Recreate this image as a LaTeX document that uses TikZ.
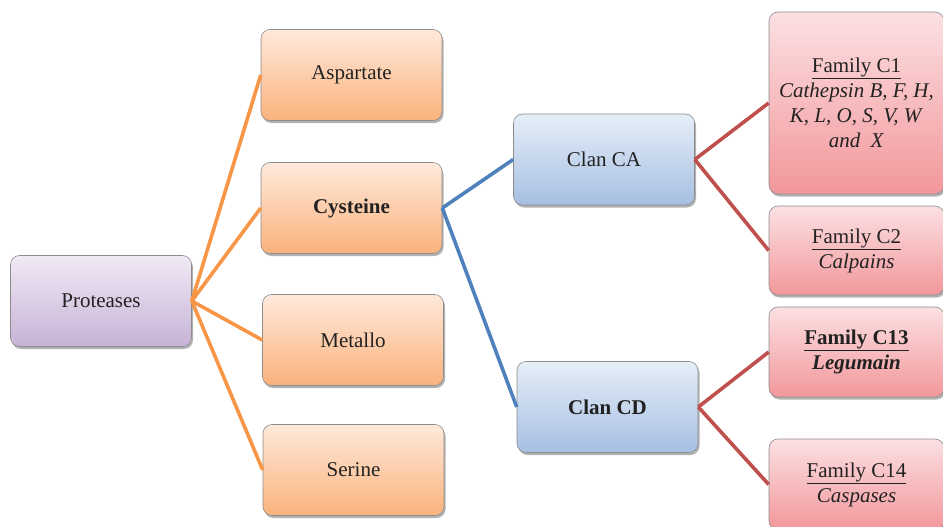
\documentclass[tikz,border=0pt]{standalone}
\usepackage{fontspec}
\setmainfont{Liberation Serif}
\usetikzlibrary{shadows}
\definecolor{purpleTop}{HTML}{F1E9F5}
\definecolor{purpleBot}{HTML}{C7B3D6}
\definecolor{orangeTop}{HTML}{FFE9DB}
\definecolor{orangeBot}{HTML}{FAB27C}
\definecolor{blueTop}{HTML}{E6EEF8}
\definecolor{blueBot}{HTML}{A6BFE2}
\definecolor{redTop}{HTML}{FCE0E2}
\definecolor{redBot}{HTML}{F2979B}
\definecolor{lineOrange}{HTML}{F79646}
\definecolor{lineBlue}{HTML}{4F81BD}
\definecolor{lineRed}{HTML}{C0504D}
\definecolor{boxBorder}{HTML}{8C8C8C}
\definecolor{txt}{HTML}{222222}
\begin{document}
\begin{tikzpicture}[x=1pt,y=-1pt,
  box/.style={draw=boxBorder, line width=0.6pt, rounded corners=9pt,
    minimum width=181pt, minimum height=91pt, align=center,
    font=\fontsize{21}{25}\selectfont, text=txt,
    drop shadow={shadow xshift=1.5pt, shadow yshift=-2.5pt, opacity=0.3, fill=black}},
  purplebox/.style={box, top color=purpleTop, bottom color=purpleBot},
  orangebox/.style={box, top color=orangeTop, bottom color=orangeBot},
  bluebox/.style={box, top color=blueTop, bottom color=blueBot},
  redbox/.style={box, top color=redTop, bottom color=redBot, minimum width=175pt},
  link/.style={line width=3.6pt},
]
\useasboundingbox (0,0) rectangle (943,527);
\clip (0,0) rectangle (943,527);

% root
\node[purplebox] (prot) at (101,301) {Proteases};

% catalytic types
\node[orangebox] (asp) at (351.5,75) {Aspartate};
\node[orangebox] (cys) at (351.5,208) {\textbf{Cysteine}};
\node[orangebox] (met) at (353,340) {Metallo};
\node[orangebox] (ser) at (353.5,470) {Serine};

% clans
\node[bluebox] (ca) at (604,159.5) {Clan CA};
\node[bluebox] (cd) at (607.5,407) {\textbf{Clan CD}};

% families
\node[redbox, minimum height=182pt] (c1) at (856.5,103)
  {\underline{Family C1}\\ \textit{Cathepsin B, F, H,}\\ \textit{K, L, O, S, V, W}\\ \textit{and\ \ X}};
\node[redbox, minimum height=89pt] (c2) at (856.5,250.5)
  {\underline{Family C2}\\ \textit{Calpains}};
\node[redbox, minimum height=90pt] (c13) at (856.5,352)
  {\underline{\textbf{Family C13}}\\ \textbf{\textit{Legumain}}};
\node[redbox, minimum height=91pt] (c14) at (856.5,484.5)
  {\underline{Family C14}\\ \textit{Caspases}};

% connectors
\foreach \t in {asp,cys,met,ser}
  \draw[link, lineOrange] (prot.east) -- (\t.west);
\foreach \t in {ca,cd}
  \draw[link, lineBlue] (cys.east) -- (\t.west);
\foreach \t in {c1,c2}
  \draw[link, lineRed] (ca.east) -- (\t.west);
\foreach \t in {c13,c14}
  \draw[link, lineRed] (cd.east) -- (\t.west);
\end{tikzpicture}
\end{document}
